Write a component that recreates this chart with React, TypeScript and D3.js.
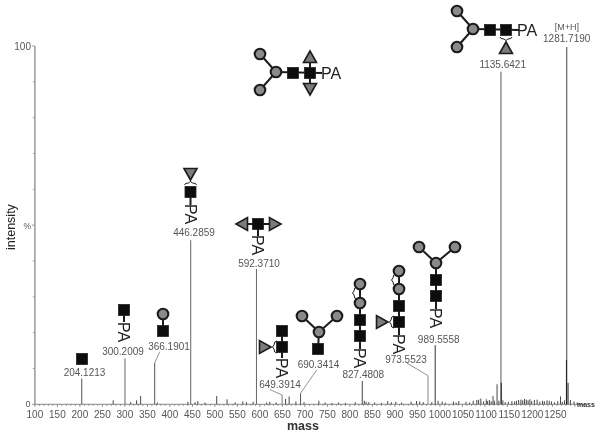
import React from 'react';
import * as d3 from 'd3';

// labelled peaks
const peakMass = [204.1213, 300.2009, 366.1901, 446.2859, 592.371, 649.3914, 690.3414, 827.4808, 973.5523, 989.5558, 1135.6421, 1281.719];
const peakIntensity = [7.2, 12.8, 11.5, 45.8, 37.8, 2.6, 3.1, 6.5, 8, 16.5, 92.8, 99.7];
const peakShade = ['#555', '#666', '#555', '#666', '#666', '#777', '#555', '#444', '#888', '#333', '#888', '#777'];

// unlabelled peaks
const minorMass = [274, 313, 326, 335, 372, 440, 456, 462, 478, 504, 527, 545, 562, 570, 585, 615, 622, 636, 657, 665, 680, 698, 731, 745, 760, 775, 790, 812, 832, 836, 842, 855, 870, 884, 892, 902, 915, 936, 948, 955, 963, 982, 996, 1005, 1012, 1030, 1036, 1042, 1058, 1066, 1074, 1082, 1086, 1091, 1097, 1103, 1106, 1110, 1114, 1118, 1121, 1127, 1131, 1140, 1145, 1152, 1160, 1166, 1170, 1175, 1180, 1184, 1188, 1192, 1196, 1200, 1204, 1210, 1216, 1222, 1228, 1232, 1238, 1243, 1248, 1255, 1262, 1268, 1272, 1277, 1285, 1290, 1298, 1305];
const minorIntensity = [1.1, 0.6, 1.1, 2.3, 0.5, 0.7, 0.6, 0.9, 0.5, 2.3, 1.4, 0.5, 0.8, 0.6, 0.7, 0.5, 0.7, 0.5, 1.5, 2.2, 0.8, 0.6, 1, 0.5, 0.4, 0.5, 0.4, 0.6, 1, 0.7, 0.6, 0.5, 0.4, 0.9, 0.6, 0.7, 0.5, 0.7, 0.9, 0.8, 0.6, 0.6, 1, 0.8, 0.5, 0.8, 0.5, 0.9, 0.7, 0.5, 1, 1.2, 1.3, 1.6, 0.8, 1.4, 0.9, 1.2, 0.8, 2.3, 1, 5.6, 1, 1.1, 0.6, 0.7, 0.9, 0.8, 1, 1.2, 1.3, 1.1, 1.5, 1.3, 1.1, 1.4, 0.9, 1.2, 1.3, 0.7, 1, 0.9, 1.1, 1, 0.8, 0.6, 0.9, 2.2, 0.7, 1.1, 6, 1.2, 0.8, 0.5];
const strongMass = [1281.2, 1281.9, 1136.4];
const strongIntensity = [12.4, 6, 6];

const xTickLabels = d3.range(100, 1251, 50);
const xMinorTicks = d3.range(100, 1321, 10);
const yMinorTicks = d3.range(0, 101, 10);

const X = d3.scaleLinear().domain([100, 1322]).range([34.9, 584.8]);
const Y = d3.scaleLinear().domain([0, 100]).range([404.3, 46]);

const sans = '"Liberation Sans", Arial, sans-serif';
const INK = '#1c1c1c';
const GREY = '#8a8a8a';

const Sq = ({x, y}: {x: number; y: number}) => (
  <rect x={x - 5.5} y={y - 5.5} width={11} height={11} fill="#111" stroke="#222" strokeWidth={0.8} />
);
const Ci = ({x, y}: {x: number; y: number}) => (
  <circle cx={x} cy={y} r={5.3} fill={GREY} stroke={INK} strokeWidth={2.1} />
);
// dir: which way the triangle points
const Tri = ({x, y, dir}: {x: number; y: number; dir: 'up' | 'down' | 'left' | 'right'}) => {
  const rot = {up: 0, right: 90, down: 180, left: 270}[dir];
  return (
    <path d="M0,-6 L6.5,5.5 L-6.5,5.5 Z" transform={`translate(${x},${y}) rotate(${rot})`} fill="#7c7c7c" stroke={INK} strokeWidth={1.6} strokeLinejoin="miter" />
  );
};
const Bond = ({pts}: {pts: number[]}) => (
  <line x1={pts[0]} y1={pts[1]} x2={pts[2]} y2={pts[3]} stroke={INK} strokeWidth={2} />
);
// "PA" running downward beside a vertical stem
const PaDown = ({x, y}: {x: number; y: number}) => (
  <text transform={`translate(${x - 6},${y}) rotate(90)`} fontFamily={sans} fontSize={16} fill="#222">PA</text>
);
const PaRight = ({x, y}: {x: number; y: number}) => (
  <text x={x} y={y} fontFamily={sans} fontSize={16} fill="#222">PA</text>
);
const BraceV = ({x, y}: {x: number; y: number}) => (
  <path d={`M${x + 2},${y - 6} Q${x - 1},${y - 6} ${x - 1},${y - 2} L${x - 2.5},${y} L${x - 1},${y + 2} Q${x - 1},${y + 6} ${x + 2},${y + 6}`} fill="none" stroke={INK} strokeWidth={1} />
);
const BraceH = ({x, y, up}: {x: number; y: number; up?: boolean}) => {
  const s = up ? -1 : 1;
  return <path d={`M${x - 6},${y} Q${x - 6},${y + 2 * s} ${x - 2},${y + 2 * s} L${x},${y + 3.5 * s} L${x + 2},${y + 2 * s} Q${x + 6},${y + 2 * s} ${x + 6},${y}`} fill="none" stroke={INK} strokeWidth={1} />;
};

const Glycans = () => (
  <g>
    {/* top centre */}
    <Bond pts={[260, 54, 276, 72]} /><Bond pts={[260, 90, 276, 72]} /><Bond pts={[276, 72, 322, 73]} /><Bond pts={[310, 57, 310, 88]} />
    <Ci x={260} y={54} /><Ci x={260} y={90} /><Ci x={276} y={72} />
    <Sq x={293} y={73} /><Sq x={310} y={73} />
    <Tri x={310} y={57} dir="up" /><Tri x={310} y={89} dir="down" />
    <PaRight x={321} y={78.5} />

    {/* top right, 1135 */}
    <Bond pts={[457, 11, 473, 29]} /><Bond pts={[457, 47, 473, 29]} /><Bond pts={[473, 29, 519, 30]} />
    <Ci x={457} y={11} /><Ci x={457} y={47} /><Ci x={473} y={29} />
    <Sq x={490} y={30} /><Sq x={506} y={30} />
    <BraceH x={506} y={37} /><Tri x={506} y={48} dir="up" />
    <PaRight x={517} y={36} />

    {/* 204 */}
    <Sq x={82} y={359} />

    {/* 300 */}
    <Bond pts={[124, 310, 124, 322]} /><Sq x={124} y={310} /><PaDown x={124} y={322} />

    {/* 366 */}
    <Bond pts={[163, 314, 163, 331]} /><Ci x={163} y={314} /><Sq x={163} y={331} />

    {/* 446 */}
    <Bond pts={[190.5, 192, 190.5, 205]} />
    <Tri x={190.5} y={174} dir="down" /><BraceH x={190.5} y={185} up /><Sq x={190.5} y={192} /><PaDown x={190.5} y={204} />

    {/* 592 */}
    <Bond pts={[242, 224, 274, 224]} /><Bond pts={[258, 224, 258, 236]} />
    <Tri x={242} y={224} dir="left" /><Tri x={275} y={224} dir="right" /><Sq x={258} y={224} /><PaDown x={258} y={235} />

    {/* 649 */}
    <Bond pts={[282, 331, 282, 358]} />
    <Sq x={282} y={331} /><Sq x={282} y={347} />
    <Tri x={265} y={347} dir="right" /><BraceV x={275} y={347} /><PaDown x={282} y={358} />

    {/* 690 */}
    <Bond pts={[302, 316, 319, 332]} /><Bond pts={[337, 316, 319, 332]} /><Bond pts={[319, 332, 318, 349]} />
    <Ci x={302} y={316} /><Ci x={337} y={316} /><Ci x={319} y={332} /><Sq x={318} y={349} />

    {/* 827 */}
    <Bond pts={[360, 284, 360, 349]} />
    <Ci x={360} y={284} /><Ci x={360} y={303} /><BraceV x={355} y={293} />
    <Sq x={360} y={320} /><Sq x={360} y={336} /><PaDown x={360} y={348} />

    {/* 973 */}
    <Bond pts={[399, 271, 399, 335]} />
    <Ci x={399} y={271} /><Ci x={399} y={289} /><BraceV x={394} y={280} />
    <Sq x={399} y={306} /><Sq x={399} y={322} />
    <Tri x={382} y={322} dir="right" /><BraceV x={392} y={322} /><PaDown x={399} y={334} />

    {/* 989 */}
    <Bond pts={[419, 247, 436, 263]} /><Bond pts={[455, 247, 436, 263]} /><Bond pts={[436, 263, 436, 309]} />
    <Ci x={419} y={247} /><Ci x={455} y={247} /><Ci x={436} y={263} />
    <Sq x={436} y={280} /><Sq x={436} y={296} /><PaDown x={436} y={308} />
  </g>
);

// [label centre x, baseline y] of every peak label, same order as peakMass
const labelPos = [[84.5, 375.7], [123, 355], [169, 350], [194, 235.7], [259, 266.7], [280, 387.7], [318.5, 367.7], [363.3, 378], [406, 363], [438.7, 343], [502.7, 67.7], [566.7, 41.7]];
// where a leader runs from the peak top up to its label
const leaders: Record<number, number[]> = {2: [159.7, 351.7], 5: [270, 389.6], 6: [316.7, 370], 8: [406.7, 363]};

// the reference's four digit tick labels drift a little to the right of their ticks
const tickLabelX = (v: number) => X(v) + (v > 1000 ? ((v - 1000) / 250) * 3 : 0);

export default function App() {
  return (
    <svg width={600} height={435} style={{position: 'absolute', left: 0, top: 0, background: '#fff'}}>
      <defs>
        <filter id="soft" x="0" y="0" width="100%" height="100%">
          <feGaussianBlur stdDeviation={0.35} />
        </filter>
      </defs>
      <g filter="url(#soft)">
        <rect width={600} height={435} fill="#fff" />
        {/* axes */}
        <line x1={X(100)} x2={X(100)} y1={Y(100)} y2={Y(0)} stroke="#999" strokeWidth={1.5} />
        <line x1={X(100)} x2={X(1322)} y1={Y(0)} y2={Y(0)} stroke="#888" strokeWidth={1} />
        {yMinorTicks.map(v => (
          <line key={v} x1={X(100) - (v % 50 === 0 ? 3 : 2)} x2={X(100)} y1={Y(v)} y2={Y(v)} stroke="#999" />
        ))}
        {xMinorTicks.map(v => (
          <line key={v} x1={X(v)} x2={X(v)} y1={Y(0)} y2={Y(0) + (v % 50 === 0 ? 2.5 : 1.5)} stroke="#888" />
        ))}
        <g fontFamily={sans} fontSize={10} fill="#555">
          {xTickLabels.map(v => (
            <text key={v} x={tickLabelX(v)} y={417.5} textAnchor="middle">{v}</text>
          ))}
          <text x={31} y={49.5} textAnchor="end">100</text>
          <text x={30.5} y={407} textAnchor="end" fontSize={9}>0</text>
          <text x={31} y={229} textAnchor="end" fontSize={8.5}>%</text>
        </g>
        <text transform="translate(15,250) rotate(-90)" fontFamily={sans} fontSize={12.5} fill="#222">intensity</text>
        <text x={287} y={430} fontFamily={sans} fontSize={12.5} fontWeight="bold" fill="#333">mass</text>
        <text x={577} y={407} fontFamily={sans} fontSize={7} fontWeight="bold" fill="#333">mass</text>

        {/* spectrum */}
        {minorMass.map((m, i) => (
          <line key={m} x1={X(m)} x2={X(m)} y1={Y(0)} y2={Y(minorIntensity[i])} stroke="#333" strokeWidth={0.9} />
        ))}
        {peakMass.map((m, i) => (
          <line key={m} x1={X(m)} x2={X(m)} y1={Y(0)} y2={Y(peakIntensity[i])} stroke={peakShade[i]} strokeWidth={i >= 10 ? 1.4 : 1} />
        ))}
        {strongMass.map((m, i) => (
          <line key={m} x1={X(m)} x2={X(m)} y1={Y(0)} y2={Y(strongIntensity[i])} stroke="#222" strokeWidth={1} />
        ))}

        {/* leaders and labels */}
        {peakMass.map((m, i) => leaders[i] && (
          <line key={m} x1={X(m)} y1={Y(peakIntensity[i])} x2={leaders[i][0]} y2={leaders[i][1]} stroke="#777" strokeWidth={0.8} />
        ))}
        <g fontFamily={sans} fontSize={10} fill="#555" textAnchor="middle">
          {peakMass.map((m, i) => (
            <text key={m} x={labelPos[i][0]} y={labelPos[i][1]}>{m.toFixed(4)}</text>
          ))}
          <text x={567} y={30} fontSize={9}>[M+H]</text>
        </g>

        <Glycans />
      </g>
    </svg>
  );
}
